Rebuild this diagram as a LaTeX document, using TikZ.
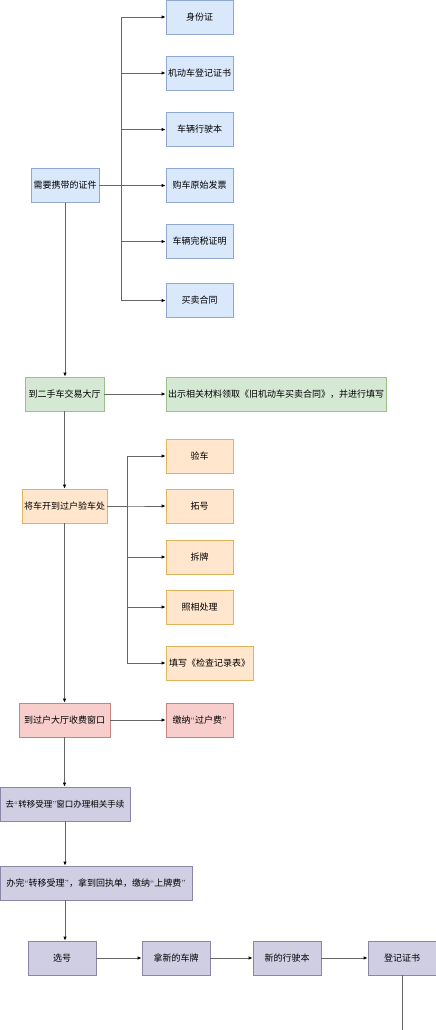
\documentclass[tikz,border=0pt]{standalone}
\usepackage{fontspec}
\newfontfamily\cjk{Noto Sans CJK SC}
\usetikzlibrary{arrows.meta}
\definecolor{blueFill}{HTML}{DAE8FC}\definecolor{blueLine}{HTML}{8FA8CF}
\definecolor{greenFill}{HTML}{D5E8D4}\definecolor{greenLine}{HTML}{9CC08A}
\definecolor{orangeFill}{HTML}{FFE6CC}\definecolor{orangeLine}{HTML}{E0B35A}
\definecolor{redFill}{HTML}{F8CECC}\definecolor{redLine}{HTML}{C48582}
\definecolor{purpleFill}{HTML}{D0CEE2}\definecolor{purpleLine}{HTML}{8A86A8}
\newcommand\qo{{\rmfamily “}}
\newcommand\qc{{\rmfamily ”}}
\begin{document}
\begin{tikzpicture}[x=1pt,y=-1pt,
    box/.style={draw, line width=0.8pt, minimum height=34pt, inner sep=1pt,
      font=\cjk\fontsize{9}{11}\selectfont},
    bluebox/.style={box, fill=blueFill, draw=blueLine, minimum width=#1},
    greenbox/.style={box, fill=greenFill, draw=greenLine, minimum width=#1},
    orangebox/.style={box, fill=orangeFill, draw=orangeLine, minimum width=#1},
    redbox/.style={box, fill=redFill, draw=redLine, minimum width=#1},
    purplebox/.style={box, fill=purpleFill, draw=purpleLine, minimum width=#1},
    arr/.style={draw=black!60, line width=0.8pt, -{Latex[length=4pt,width=3.5pt,black]}},
    link/.style={draw=black!60, line width=0.8pt}]
    \useasboundingbox (0,0) rectangle (436,1030);

    %documents to bring
    \node[bluebox=68pt] (need) at (65,185.5) {需要携带的证件};
    \node[bluebox=67pt] (idcard) at (199.5,17) {身份证};
    \node[bluebox=67pt] (regbook) at (199.5,73) {机动车登记证书};
    \node[bluebox=67pt] (license) at (199.5,129.5) {车辆行驶本};
    \node[bluebox=67pt] (invoice) at (199.5,185.5) {购车原始发票};
    \node[bluebox=67pt] (taxproof) at (199.5,241.5) {车辆完税证明};
    \node[bluebox=67pt] (contract) at (199.5,300.5) {买卖合同};
    \foreach \d in {idcard,regbook,license,invoice,taxproof,contract}
        \draw[arr] (need.east) -- ++(22,0) |- (\d.west);

    %trading hall
    \node[greenbox=79pt] (hall) at (64.5,394) {到二手车交易大厅};
    \node[greenbox=220pt] (form) at (276,394) {出示相关材料领取《旧机动车买卖合同》，并进行填写};
    \draw[arr] (need.south) -- (need.south |- hall.north);
    \draw[arr] (hall.east) -- (form.west);

    %inspection
    \node[orangebox=85pt] (check) at (64.5,506) {将车开到过户验车处};
    \node[orangebox=67pt] (inspect) at (199.5,456) {验车};
    \node[orangebox=67pt] (rubbing) at (199.5,506) {拓号};
    \node[orangebox=67pt] (unplate) at (199.5,557) {拆牌};
    \node[orangebox=67pt] (photo) at (199.5,607) {照相处理};
    \node[orangebox=87pt] (record) at (209.5,663) {填写《检查记录表》};
    \draw[arr] (hall.south) -- (hall.south |- check.north);
    \foreach \d in {inspect,rubbing,unplate,photo,record}
        \draw[arr] (check.east) -- ++(20,0) |- (\d.west);

    %fee window
    \node[redbox=91pt] (fee) at (64.5,720) {到过户大厅收费窗口};
    \node[redbox=67pt] (pay) at (199.5,720) {缴纳\qo 过户费\qc};
    \draw[arr] (check.south) -- (check.south |- fee.north);
    \draw[arr] (fee.east) -- (pay.west);

    %transfer and new plates
    \node[purplebox=130pt, font=\cjk\fontsize{8.5}{11}\selectfont] (transfer) at (65,804) {去\qo 转移受理\qc 窗口办理相关手续};
    \node[purplebox=192pt] (done) at (96,883) {办完\qo 转移受理\qc ，拿到回执单，缴纳\qo 上牌费\qc};
    \node[purplebox=68pt] (pick) at (62,958) {选号};
    \node[purplebox=68pt] (newplate) at (176,958) {拿新的车牌};
    \node[purplebox=68pt] (newlic) at (287,958) {新的行驶本};
    \node[purplebox=68pt] (regcert) at (402,958) {登记证书};
    \coordinate (tail) at (402,1030);
    \draw[arr] (fee.south) -- (fee.south |- transfer.north);
    \draw[arr] (transfer.south) -- (transfer.south |- done.north);
    \draw[arr] (transfer.south |- done.south) -- (transfer.south |- pick.north);
    \draw[arr] (pick.east) -- (newplate.west);
    \draw[arr] (newplate.east) -- (newlic.west);
    \draw[arr] (newlic.east) -- (regcert.west);
    \draw[link] (regcert.south) -- (tail);
\end{tikzpicture}
\end{document}
